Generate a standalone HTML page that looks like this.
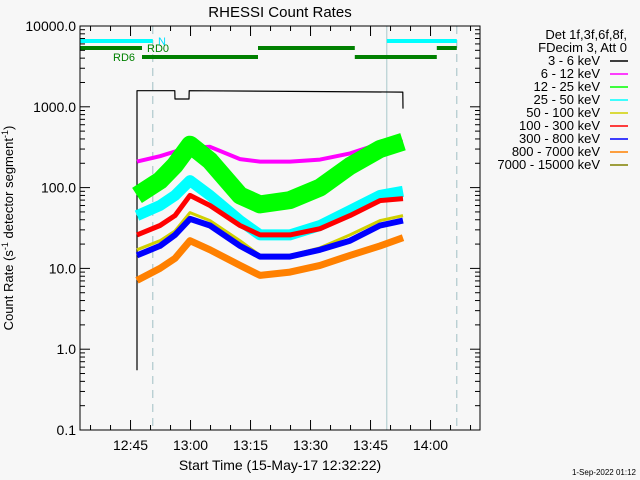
<!DOCTYPE html>
<html><head><meta charset="utf-8"><style>
body{margin:0;background:#f7f7f7}
svg{display:block;font-family:"Liberation Sans","DejaVu Sans",sans-serif}
</style></head><body>
<svg id="chart" width="640" height="480" viewBox="0 0 640 480">
<rect width="640" height="480" fill="#f7f7f7"/>
<text x="280" y="17" font-size="15" text-anchor="middle">RHESSI Count Rates</text>
<g id="marks"></g>
<g id="axes"></g>
<text transform="translate(13,228) rotate(-90)" font-size="13" text-anchor="middle">Count Rate (s<tspan baseline-shift="super" font-size="9">-1</tspan> detector segment<tspan baseline-shift="super" font-size="9">-1</tspan>)</text>
<text x="280" y="470" font-size="14" text-anchor="middle">Start Time (15-May-17 12:32:22)</text>
<text x="636" y="475" font-size="8" text-anchor="end">1-Sep-2022 01:12</text>
<g id="legend" font-size="13" text-anchor="end">
<text x="627" y="39">Det 1f,3f,6f,8f,</text>
<text x="627" y="52">FDecim 3, Att 0</text>
</g>
</svg>
<script>
const times=[14.25,20,23.75,27.5,32.5,40,45,52.5,60,67.5,75,80.75];
const magenta=[210,245,280,310,320,225,210,210,222,265,350,370];
const green=[80,122,190,340,215,80,62,70,100,185,300,370];
const cyan=[45,60,80,122,80,39,26,26,34,52,80,90];
const yellow=[17,22,29,49,39,22,14.5,14.5,18,26,39,45];
const red=[26,34,45,80,60,34,26,26,31,45,69,73];
const blue=[14.5,19,26,41,34,19,14,14,17,22,34,39];
const orange=[7.1,10,13.3,22,17,10.9,8.2,9,10.9,14.5,19,24];
const blackTimes=[14.25,14.26,23.7,23.75,27.25,27.3,80.7,80.75];
const black=[0.55,1580,1580,1250,1250,1580,1520,950];
const bandLabels=["3 - 6 keV","6 - 12 keV","12 - 25 keV","25 - 50 keV","50 - 100 keV","100 - 300 keV","300 - 800 keV","800 - 7000 keV","7000 - 15000 keV"];
const bandColors=["#000","#ff00ff","#00ff00","#00ffff","#d0d000","#ff0000","#0000ff","#ff8000","#808000"];
const yTicks=[0.1,1,10,100,1000,10000];
const yTickLabels=["0.1","1.0","10.0","100.0","1000.0","10000.0"];
const xTickMin=[12.633,27.633,42.633,57.633,72.633,87.633];
const xTickLabels=["12:45","13:00","13:15","13:30","13:45","14:00"];

const X0=80,X1=480,Y0=26,Y1=430;
const xs=m=>X0+m*4;
const ys=v=>Y1-(Math.log10(v)+1)*((Y1-Y0)/5);
const NS="http://www.w3.org/2000/svg";
const marks=document.getElementById('marks'),axes=document.getElementById('axes');
function mk(tag,attrs,parent){const e=document.createElementNS(NS,tag);for(const k in attrs)e.setAttribute(k,attrs[k]);parent.appendChild(e);return e;}

[[0,false,'#00e8ff'],[76.7,false,'#a8c8cc'],[18.2,true,'#a0c0c4'],[94.2,true,'#a0c0c4']].forEach(([m,d,c])=>{
 const l=mk('line',{x1:xs(m),x2:xs(m),y1:Y0,y2:Y1,stroke:c,'stroke-width':1,'stroke-dasharray':d?'8,6':'none'},marks);
 
 
});
[[41,0,18.2,'#00ffff'],[41,76.7,94.2,'#00ffff'],[48,0,15.5,'#008000'],[48,44.5,68.7,'#008000'],[48,89.2,94.2,'#008000'],[57,15.5,44.5,'#008000'],[57,68.7,89.2,'#008000']].forEach(([y,a,b,c])=>{
 const l=mk('line',{x1:xs(a),x2:xs(b),y1:y,y2:y,stroke:c,'stroke-width':4},marks);
 
 
});
[['N',158,45,'#00e0ff'],['RD0',147,52,'#008000'],['RD6',113,61,'#008000']].forEach(([t,x,y,c])=>{
 const e=mk('text',{x:x,y:y,'font-size':11,fill:c},marks);e.textContent=t;
 
 
});

function series(tArr,vArr,color,w,name){
 const pts=tArr.map((t,i)=>xs(t).toFixed(1)+','+ys(vArr[i]).toFixed(1)).join(' ');
 const p=mk('polyline',{points:pts,fill:'none',stroke:color,'stroke-width':w,'stroke-linejoin':'round'},marks);
 
 
}
series(blackTimes,black,'#000',1.2,'series-3-6kev');
series(times,magenta,'#ff00ff',4,'series-6-12kev');
series(times,green,'#00ff00',18,'series-12-25kev');
series(times,cyan,'#00ffff',11,'series-25-50kev');
series(times,yellow,'#d0d000',3,'series-50-100kev');
series(times,red,'#ff0000',5,'series-100-300kev');
series(times,blue,'#0000ff',6,'series-300-800kev');
series(times,orange,'#ff8000',7,'series-800-7000kev');

const box=mk('rect',{x:X0,y:Y0,width:X1-X0,height:Y1-Y0,fill:'none',stroke:'#000','stroke-width':1},axes);


for(let d=-1;d<=4;d++){
 for(let k=1;k<10;k++){const v=k*Math.pow(10,d);if(v>10000)break;const y=ys(v);const L=k===1?10:5;
  mk('line',{x1:X0,x2:X0+L,y1:y,y2:y,stroke:'#000'},axes);mk('line',{x1:X1,x2:X1-L,y1:y,y2:y,stroke:'#000'},axes);}
}
yTicks.forEach((v,i)=>{const t=mk('text',{x:76,y:ys(v)+5,'font-size':14,'text-anchor':'end'},axes);t.textContent=yTickLabels[i];
 
 });
for(let m=2.633;m<=100;m+=5){const x=xs(m);const major=xTickMin.some(t=>Math.abs(t-m)<0.01);const L=major?10:5;
 mk('line',{x1:x,x2:x,y1:Y1,y2:Y1-L,stroke:'#000'},axes);mk('line',{x1:x,x2:x,y1:Y0,y2:Y0+L,stroke:'#000'},axes);}
xTickMin.forEach((m,i)=>{const t=mk('text',{x:xs(m),y:450,'font-size':14,'text-anchor':'middle'},axes);t.textContent=xTickLabels[i];
 
 });
const lg=document.getElementById('legend');
bandLabels.forEach((lab,i)=>{const y=61+i*13;
 const t=mk('text',{x:600,y:y+4},lg);t.textContent=lab;
 
 
 const l=mk('line',{x1:610,x2:628,y1:y,y2:y,stroke:bandColors[i],'stroke-width':1.5},lg);
 
 
});
</script>
</body></html>
